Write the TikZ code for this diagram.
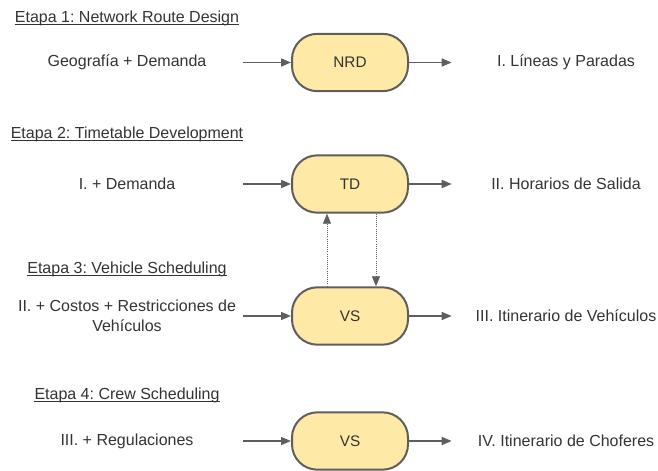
\documentclass[tikz,border=0pt]{standalone}
\usepackage{fontspec}
\setmainfont{Liberation Sans}
\usetikzlibrary{arrows.meta}
\frenchspacing

\definecolor{inkgray}{HTML}{333333}
\definecolor{linegray}{HTML}{5E5E5E}
\definecolor{boxfill}{HTML}{FFE9A6}

\tikzset{
  procbox/.style={draw=linegray, line width=1.5pt, fill=boxfill, rounded corners=19pt,
    minimum width=87pt, minimum height=43pt, inner sep=0pt, text=inkgray,
    font=\fontsize{11.5}{13}\selectfont},
  lbl/.style={text=inkgray, font=\fontsize{12}{15}\selectfont, align=center, inner sep=0pt},
  stagetitle/.style={text=inkgray, font=\fontsize{12}{15}\selectfont, inner sep=0pt, anchor=base},
  flow/.style={draw=linegray, line width=1.1pt, -{Triangle[length=7.5pt,width=6pt]}},
  feedback/.style={draw=linegray, line width=0.6pt, densely dotted, -{Triangle[length=7.5pt,width=6pt]}},
  uline/.style={draw=inkgray, line width=0.7pt}
}

\begin{document}
\begin{tikzpicture}[x=0.75pt, y=-0.75pt]
  \useasboundingbox (0,0) rectangle (658,471);

  % stage titles
  \node[stagetitle] (s1) at (127,22) {Etapa 1: Network Route Design};
  \node[stagetitle] (s2) at (127,138) {Etapa 2: Timetable Development};
  \node[stagetitle] (s3) at (127,273) {Etapa 3: Vehicle Scheduling};
  \node[stagetitle] (s4) at (127,399) {Etapa 4: Crew Scheduling};
  \foreach \s in {s1,s2,s3,s4}
    \draw[uline] ([yshift=-2pt]\s.base west) -- ([yshift=-2pt]\s.base east);

  % process boxes
  \node[procbox] (nrd) at (350,62.5) {NRD};
  \node[procbox] (td)  at (350,184) {TD};
  \node[procbox] (vs)  at (350,316) {VS};
  \node[procbox] (cs)  at (350,441) {VS};

  % inputs
  \node[lbl] (in1) at (127,62.5) {Geografía + Demanda};
  \node[lbl] (in2) at (127,184) {I. + Demanda};
  \node[lbl] (in3) at (127,316) {II. + Costos + Restricciones de\\Vehículos};
  \node[lbl] (in4) at (127,441) {III. + Regulaciones};

  % outputs
  \node[lbl] (out1) at (566,62.5) {I. Líneas y Paradas};
  \node[lbl] (out2) at (566,184) {II. Horarios de Salida};
  \node[lbl] (out3) at (566,316) {III. Itinerario de Vehículos};
  \node[lbl] (out4) at (566,441) {IV. Itinerario de Choferes};

  % arrow anchor points beside the boxes
  \foreach \b in {nrd,td,vs,cs} {
    \coordinate (\b-in) at ([xshift=-36pt]\b.west);
    \coordinate (\b-out) at ([xshift=32pt]\b.east);
    \draw[flow] (\b-in) -- (\b.west);
    \draw[flow] (\b.east) -- (\b-out);
  }

  % feedback between timetable and vehicle scheduling
  \draw[feedback] (vs.north -| 327,0) -- (td.south -| 327,0);
  \draw[feedback] (td.south -| 376,0) -- (vs.north -| 376,0);
\end{tikzpicture}
\end{document}
